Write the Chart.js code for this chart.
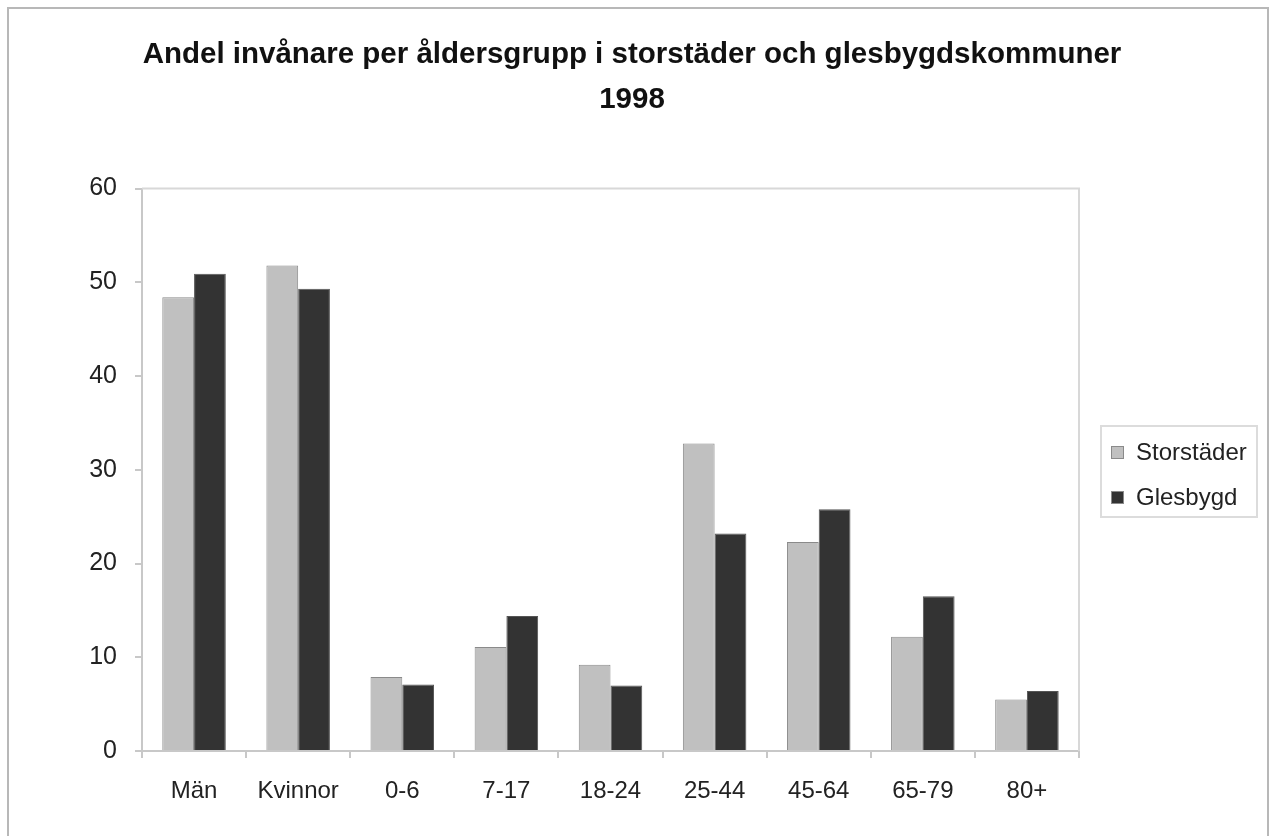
<!DOCTYPE html>
<html>
<head>
<meta charset="utf-8">
<script src="https://cdn.jsdelivr.net/npm/chart.js@4/dist/chart.umd.min.js"></script>
<style>
  html, body { margin: 0; padding: 0; background: #fff; overflow: hidden; }
  #frame { position: absolute; left: 7px; top: 7px; width: 1258px; height: 900px; border: 2px solid #b8b8b8; }
  #wrap { position: absolute; left: 0; top: 0; width: 1276px; height: 836px; }
  #legend {
    position: absolute; left: 1100px; top: 425px; width: 154px; height: 89px;
    border: 2px solid #dcdcdc; font-family: "Liberation Sans", Arial, sans-serif;
    font-size: 24px; color: #222;
  }
  .item { position: absolute; left: 9px; height: 28px; line-height: 28px; }
  .item span.box { position: absolute; left: 0; top: 8px; width: 11px; height: 11px; border: 1px solid #8a8a8a; }
  .item span.txt { position: absolute; left: 25px; top: 0; white-space: nowrap; }
</style>
</head>
<body>
<div id="frame"></div>
<div id="wrap"><canvas id="c" width="1276" height="836"></canvas></div>
<div id="legend"></div>
<script>
// Andel invånare per åldersgrupp, procent
const categories = ['Män', 'Kvinnor', '0-6', '7-17', '18-24', '25-44', '45-64', '65-79', '80+'];
const seriesNames = ['Storstäder', 'Glesbygd'];
const storstader = [48.4, 51.8, 7.9, 11.1, 9.2, 32.8, 22.3, 12.2, 5.5];
const glesbygd = [50.9, 49.3, 7.1, 14.4, 7.0, 23.2, 25.8, 16.5, 6.4];
const seriesColors = ['#c0c0c0', '#333333'];
const titleLines = ['Andel invånare per åldersgrupp i storstäder och glesbygdskommuner', '1998'];

const FONT = '"Liberation Sans", Arial, sans-serif';
const AXIS_GRAY = '#c8c8c8';

// ram runt diagramytan (topp och höger)
const plotFrame = {
  id: 'plotFrame',
  afterDatasetsDraw(chart) {
    const { ctx, chartArea: a } = chart;
    ctx.save();
    ctx.strokeStyle = '#d8d8d8';
    ctx.lineWidth = 2;
    ctx.beginPath();
    ctx.moveTo(a.left, a.top);
    ctx.lineTo(a.right, a.top);
    ctx.lineTo(a.right, a.bottom);
    ctx.stroke();
    ctx.restore();
  }
};

const ctx = document.getElementById('c').getContext('2d');
new Chart(ctx, {
  type: 'bar',
  data: {
    labels: categories,
    datasets: [
      { label: seriesNames[0], data: storstader, backgroundColor: seriesColors[0], borderColor: '#8a8a8a', borderWidth: 1 },
      { label: seriesNames[1], data: glesbygd, backgroundColor: seriesColors[1], borderColor: '#555555', borderWidth: 1 }
    ]
  },
  options: {
    responsive: false,
    animation: false,
    events: [],
    layout: { padding: { left: 0, right: 12, top: 0, bottom: 0 } },
    datasets: { bar: { categoryPercentage: 0.61, barPercentage: 1.0 } },
    plugins: {
      legend: { display: false },
      tooltip: { enabled: false },
      title: {
        display: true,
        text: titleLines,
        color: '#111',
        font: { family: FONT, size: 29.5, weight: 'bold', lineHeight: 1.5 },
        padding: { top: 33, bottom: 67 }
      }
    },
    scales: {
      x: {
        grid: { display: true, drawOnChartArea: false, offset: true, tickLength: 7, color: AXIS_GRAY, lineWidth: 2 },
        border: { display: true, color: AXIS_GRAY, width: 2 },
        ticks: { color: '#222', font: { family: FONT, size: 24 }, padding: 19, maxRotation: 0, autoSkip: false },
        afterFit(s) { s.height = 85; }
      },
      y: {
        min: 0, max: 60,
        grid: { display: true, drawOnChartArea: false, tickLength: 7, color: AXIS_GRAY, lineWidth: 2 },
        border: { display: true, color: AXIS_GRAY, width: 2 },
        ticks: { stepSize: 10, color: '#222', font: { family: FONT, size: 25 }, padding: 18 },
        afterFit(s) { s.width = 142; }
      },
      spaceRight: {
        type: 'linear', position: 'right', display: true,
        grid: { display: false }, border: { display: false }, ticks: { display: false },
        afterFit(s) { s.width = 185; }
      }
    }
  },
  plugins: [plotFrame]
});

// förklaring
const legend = document.getElementById('legend');
seriesNames.forEach((name, i) => {
  const it = document.createElement('div');
  it.className = 'item';
  it.style.top = (11 + i * 45) + 'px';
  it.innerHTML = '<span class="box" style="background:' + seriesColors[i] + '"></span><span class="txt">' + name + '</span>';
  legend.appendChild(it);
});
</script>
</body>
</html>
